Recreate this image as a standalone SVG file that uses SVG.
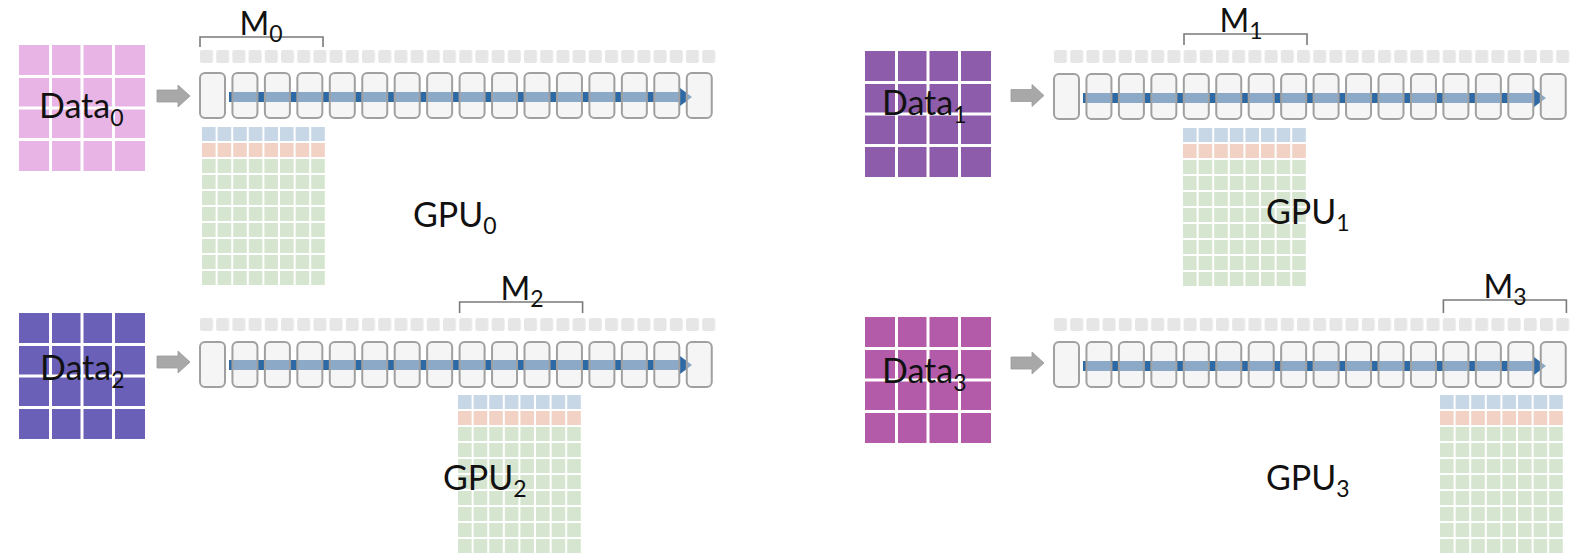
<svg xmlns="http://www.w3.org/2000/svg" xmlns:xlink="http://www.w3.org/1999/xlink" width="1592" height="557" viewBox="0 0 1592 557">
<style>
.lbl{font-family:Lato,"Open Sans","Liberation Sans",sans-serif;font-size:34px;fill:#111}
.mlbl{font-family:Lato,"Open Sans","Liberation Sans",sans-serif;font-size:32px;fill:#111}
.sub{font-size:23px}
.box{fill:#ebebeb;fill-opacity:0.5;stroke:#a0a0a0;stroke-width:2}
.brk{fill:none;stroke:#7a7a7a;stroke-width:1.6}
.garrow{fill:#a8a8a8;stroke:#9a9a9a;stroke-width:0.8}
.barrow{fill:#2d69a5}
.dl{stroke:#ffffff;stroke-width:3}
</style>
<defs>
<pattern id="psq" width="16.2" height="13" patternUnits="userSpaceOnUse"><rect width="13" height="13" rx="2" fill="#e6e6e6"/></pattern>
<pattern id="pb" width="15.6" height="16" patternUnits="userSpaceOnUse"><rect width="13.6" height="14" fill="#c8d7e6"/></pattern>
<pattern id="po" width="15.6" height="16" patternUnits="userSpaceOnUse"><rect width="13.6" height="14" fill="#f1d2c4"/></pattern>
<pattern id="pg" width="15.6" height="16" patternUnits="userSpaceOnUse"><rect width="13.6" height="14" fill="#d6e5cf"/></pattern>
<g id="boxes" class="box">
<rect x="0" y="0" width="25" height="45" rx="5"/>
<rect x="32.45" y="0" width="25" height="45" rx="5"/>
<rect x="64.9" y="0" width="25" height="45" rx="5"/>
<rect x="97.35" y="0" width="25" height="45" rx="5"/>
<rect x="129.8" y="0" width="25" height="45" rx="5"/>
<rect x="162.25" y="0" width="25" height="45" rx="5"/>
<rect x="194.7" y="0" width="25" height="45" rx="5"/>
<rect x="227.15" y="0" width="25" height="45" rx="5"/>
<rect x="259.6" y="0" width="25" height="45" rx="5"/>
<rect x="292.05" y="0" width="25" height="45" rx="5"/>
<rect x="324.5" y="0" width="25" height="45" rx="5"/>
<rect x="356.95" y="0" width="25" height="45" rx="5"/>
<rect x="389.4" y="0" width="25" height="45" rx="5"/>
<rect x="421.85" y="0" width="25" height="45" rx="5"/>
<rect x="454.3" y="0" width="25" height="45" rx="5"/>
<rect x="486.75" y="0" width="25" height="45" rx="5"/>
</g>
<rect id="squares" width="518" height="13" fill="url(#psq)"/>
<g id="cells">
<rect x="0" y="0" width="123" height="16" fill="url(#pb)"/>
<rect x="0" y="16" width="123" height="16" fill="url(#po)"/>
<rect x="0" y="32" width="123" height="128" fill="url(#pg)"/>
</g>
<g id="dlines" class="dl">
<line x1="31.5" y1="0" x2="31.5" y2="126"/>
<line x1="63" y1="0" x2="63" y2="126"/>
<line x1="94.5" y1="0" x2="94.5" y2="126"/>
<line x1="0" y1="31.5" x2="126" y2="31.5"/>
<line x1="0" y1="63" x2="126" y2="63"/>
<line x1="0" y1="94.5" x2="126" y2="94.5"/>
</g>
<path id="blue" class="barrow" d="M29,-5 H480 V-9 L492,0 L480,9 V5 H29 Z"/>
<path id="gray" class="garrow" d="M0,-6 H21 V-11 L33,0 L21,11 V6 H0 Z"/>
</defs>

<g id="connectors">
<use xlink:href="#gray" href="#gray" transform="translate(157,96)"/>
<use xlink:href="#gray" href="#gray" transform="translate(1011,95.5)"/>
<use xlink:href="#gray" href="#gray" transform="translate(157,362)"/>
<use xlink:href="#gray" href="#gray" transform="translate(1011,363)"/>
<use xlink:href="#blue" href="#blue" transform="translate(200,97)"/>
<use xlink:href="#blue" href="#blue" transform="translate(1054,98)"/>
<use xlink:href="#blue" href="#blue" transform="translate(200,365)"/>
<use xlink:href="#blue" href="#blue" transform="translate(1054,366)"/>
</g>

<!-- GPU 0 -->
<g id="data0">
<rect x="19" y="45" width="126" height="126" fill="#e8b4e6"/>
<use xlink:href="#dlines" href="#dlines" transform="translate(19,45)"/>
<text class="lbl" x="39" y="118">Data<tspan class="sub" dy="8">0</tspan></text>
</g>
<g id="layers0">
<use xlink:href="#squares" href="#squares" transform="translate(200,50)"/>
<use xlink:href="#boxes" href="#boxes" transform="translate(200,73)"/>
</g>
<g id="m0">
<path class="brk" d="M200,47 V37 H323 V47"/>
<text class="mlbl" x="261" y="35" text-anchor="middle">M<tspan class="sub" dy="7">0</tspan></text>
</g>
<g id="gpu0">
<use xlink:href="#cells" href="#cells" transform="translate(202,127)"/>
<text class="lbl" x="413" y="227">GPU<tspan class="sub" dy="7">0</tspan></text>
</g>

<!-- GPU 1 -->
<g id="data1">
<rect x="865" y="51" width="126" height="126" fill="#8d5caa"/>
<use xlink:href="#dlines" href="#dlines" transform="translate(865,51)"/>
<text class="lbl" x="882" y="115">Data<tspan class="sub" dy="8">1</tspan></text>
</g>
<g id="layers1">
<use xlink:href="#squares" href="#squares" transform="translate(1054,50)"/>
<use xlink:href="#boxes" href="#boxes" transform="translate(1054,74)"/>
</g>
<g id="m1">
<path class="brk" d="M1184,45 V34 H1307 V45"/>
<text class="mlbl" x="1241" y="32" text-anchor="middle">M<tspan class="sub" dy="7">1</tspan></text>
</g>
<g id="gpu1">
<use xlink:href="#cells" href="#cells" transform="translate(1183,128)"/>
<text class="lbl" x="1266" y="224">GPU<tspan class="sub" dy="7">1</tspan></text>
</g>

<!-- GPU 2 -->
<g id="data2">
<rect x="19" y="313" width="126" height="126" fill="#6a60b8"/>
<use xlink:href="#dlines" href="#dlines" transform="translate(19,313)"/>
<text class="lbl" x="40" y="380">Data<tspan class="sub" dy="8">2</tspan></text>
</g>
<g id="layers2">
<use xlink:href="#squares" href="#squares" transform="translate(200,318)"/>
<use xlink:href="#boxes" href="#boxes" transform="translate(200,342)"/>
</g>
<g id="m2">
<path class="brk" d="M459.6,313 V302 H582.6 V313"/>
<text class="mlbl" x="522" y="300" text-anchor="middle">M<tspan class="sub" dy="7">2</tspan></text>
</g>
<g id="gpu2">
<use xlink:href="#cells" href="#cells" transform="translate(458,395)"/>
<text class="lbl" x="443" y="490">GPU<tspan class="sub" dy="7">2</tspan></text>
</g>

<!-- GPU 3 -->
<g id="data3">
<rect x="865" y="317" width="126" height="126" fill="#b35aa9"/>
<use xlink:href="#dlines" href="#dlines" transform="translate(865,317)"/>
<text class="lbl" x="882" y="383">Data<tspan class="sub" dy="8">3</tspan></text>
</g>
<g id="layers3">
<use xlink:href="#squares" href="#squares" transform="translate(1054,318)"/>
<use xlink:href="#boxes" href="#boxes" transform="translate(1054,342)"/>
</g>
<g id="m3">
<path class="brk" d="M1443.4,313 V300 H1566.4 V313"/>
<text class="mlbl" x="1505" y="298" text-anchor="middle">M<tspan class="sub" dy="7">3</tspan></text>
</g>
<g id="gpu3">
<use xlink:href="#cells" href="#cells" transform="translate(1440,395)"/>
<text class="lbl" x="1266" y="490">GPU<tspan class="sub" dy="7">3</tspan></text>
</g>
</svg>
